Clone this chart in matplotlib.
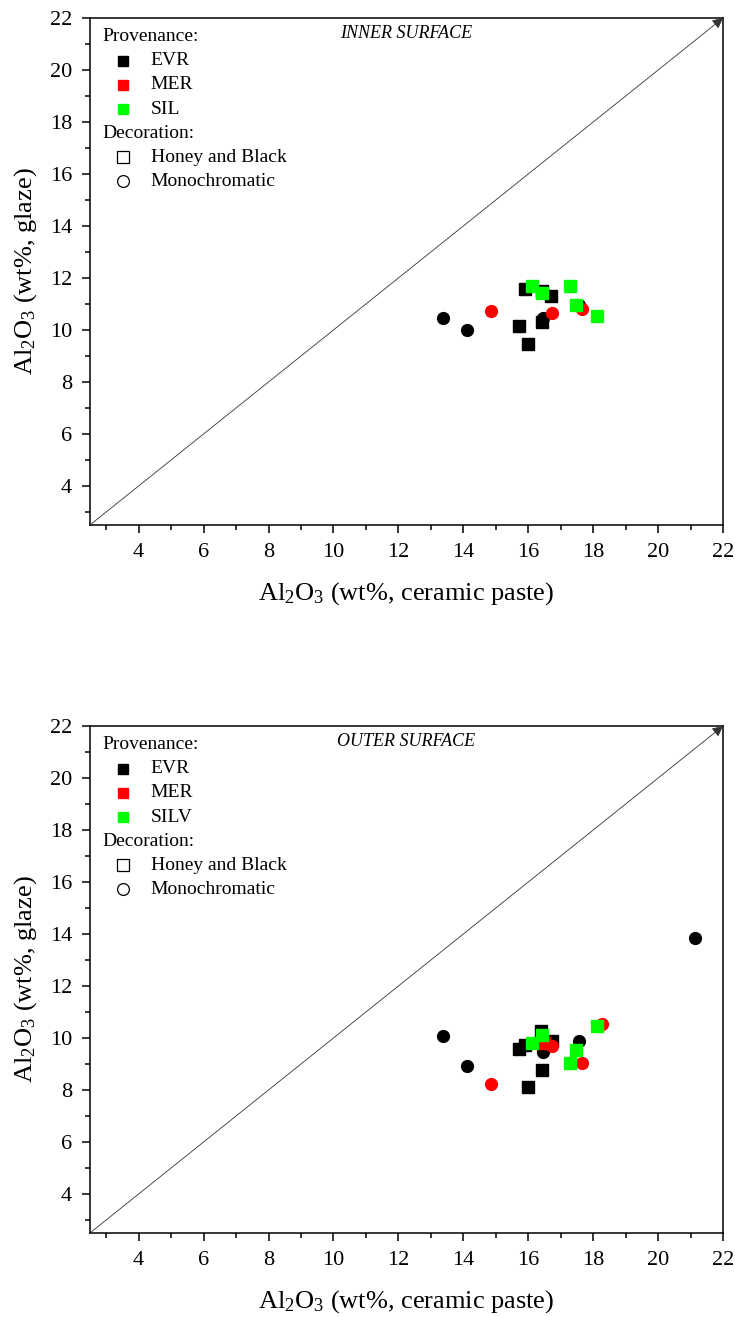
import matplotlib
matplotlib.use("Agg")
import matplotlib.pyplot as plt
from matplotlib.ticker import MultipleLocator

plt.rcParams['font.family'] = ['Liberation Serif', 'DejaVu Serif']
plt.rcParams['mathtext.fontset'] = 'custom'
plt.rcParams['mathtext.rm'] = 'Liberation Serif'
plt.rcParams['mathtext.it'] = 'Liberation Serif:italic'

# ---- Inner surface (ceramic paste vs glaze) ----
in_evr_hb_x = [15.89, 16.41, 16.69, 15.71, 15.99, 16.43]
in_evr_hb_y = [11.58, 11.51, 11.32, 10.17, 9.45, 10.32]
in_evr_mono_x = [13.37, 14.12, 16.46, 17.57]
in_evr_mono_y = [10.45, 10.00, 10.45, 10.96]
in_mer_mono_x = [14.86, 16.74, 17.65]
in_mer_mono_y = [10.74, 10.67, 10.81]
in_sil_hb_x = [16.13, 16.41, 17.30, 17.47, 18.13]
in_sil_hb_y = [11.69, 11.43, 11.69, 10.96, 10.54]

# ---- Outer surface ----
out_evr_hb_x = [16.39, 15.89, 15.71, 16.74, 16.43, 15.99]
out_evr_hb_y = [10.28, 9.73, 9.57, 9.90, 8.76, 8.12]
out_evr_mono_x = [13.37, 14.12, 16.46, 17.57, 21.14]
out_evr_mono_y = [10.09, 8.93, 9.45, 9.90, 13.86]
out_mer_hb_x = [16.49]
out_mer_hb_y = [9.82]
out_mer_mono_x = [14.86, 16.74, 17.65, 18.26]
out_mer_mono_y = [8.24, 9.69, 9.04, 10.54]
out_silv_hb_x = [16.41, 16.13, 17.47, 17.30, 18.13]
out_silv_hb_y = [10.12, 9.80, 9.54, 9.03, 10.47]

ticks = [4, 6, 8, 10, 12, 14, 16, 18, 20, 22]

BLACK = '#000000'
RED = '#ff0000'
GREEN = '#00ff00'


def setup_axes(ax):
    ax.set_xlim(2.5, 22)
    ax.set_ylim(2.5, 22)
    ax.set_xticks(ticks)
    ax.set_yticks(ticks)
    ax.xaxis.set_minor_locator(MultipleLocator(1))
    ax.yaxis.set_minor_locator(MultipleLocator(1))
    ax.tick_params(which='major', direction='out', length=6, width=1.1,
                   labelsize=16, pad=7, top=False, right=False)
    ax.tick_params(which='minor', direction='out', length=3.5, width=1.1)
    for s in ax.spines.values():
        s.set_linewidth(1.1)
    ax.set_xlabel(r'Al$_2$O$_3$ (wt%, ceramic paste)', fontsize=19, labelpad=13)
    ax.set_ylabel(r'Al$_2$O$_3$ (wt%, glaze)', fontsize=19, labelpad=8)
    # 1:1 reference line
    ax.annotate('', xy=(22, 22), xytext=(2.5, 2.5),
                arrowprops=dict(arrowstyle='-|>', lw=0.6, color='#333333',
                                mutation_scale=16, shrinkA=0, shrinkB=0))


def draw_key(ax, prov_names, title):
    tr = ax.transAxes
    y0, dy = 0.963, 0.0475
    ax.text(0.02, y0, 'Provenance:', transform=tr, fontsize=14, va='center')
    for i, (name, col) in enumerate(zip(prov_names, [BLACK, RED, GREEN])):
        y = y0 - dy * (i + 1)
        ax.plot([0.052], [y], 's', color=col, ms=7.5, transform=tr, clip_on=False)
        ax.text(0.096, y, name, transform=tr, fontsize=14, va='center')
    y = y0 - dy * 4
    ax.text(0.02, y, 'Decoration:', transform=tr, fontsize=14, va='center')
    for i, (name, mk) in enumerate([('Honey and Black', 's'), ('Monochromatic', 'o')]):
        y = y0 - dy * (5 + i)
        ax.plot([0.052], [y], mk, mfc='white', mec='black', mew=0.9, ms=8.5,
                transform=tr, clip_on=False)
        ax.text(0.096, y, name, transform=tr, fontsize=14, va='center')
    ax.text(0.5, 0.97, title, transform=tr, fontsize=13, style='italic',
            ha='center', va='center')


fig = plt.figure(figsize=(7.35, 13.17), dpi=100)
ax1 = fig.add_axes([0.1224, 0.6014, 0.8613, 0.3849])
ax2 = fig.add_axes([0.1224, 0.0638, 0.8613, 0.3849])

ms_sq = 8
ms_ci = 8.5

# inner
setup_axes(ax1)
ax1.plot(in_evr_hb_x, in_evr_hb_y, 's', color=BLACK, ms=ms_sq, ls='none')
ax1.plot(in_evr_mono_x, in_evr_mono_y, 'o', color=BLACK, ms=ms_ci, ls='none')
ax1.plot(in_mer_mono_x, in_mer_mono_y, 'o', color=RED, ms=ms_ci, ls='none')
ax1.plot(in_sil_hb_x, in_sil_hb_y, 's', color=GREEN, ms=ms_sq, ls='none')
draw_key(ax1, ['EVR', 'MER', 'SIL'], 'INNER SURFACE')

# outer
setup_axes(ax2)
ax2.plot(out_evr_hb_x, out_evr_hb_y, 's', color=BLACK, ms=ms_sq, ls='none')
ax2.plot(out_evr_mono_x, out_evr_mono_y, 'o', color=BLACK, ms=ms_ci, ls='none')
ax2.plot(out_mer_hb_x, out_mer_hb_y, 's', color=RED, ms=ms_sq, ls='none')
ax2.plot(out_mer_mono_x, out_mer_mono_y, 'o', color=RED, ms=ms_ci, ls='none')
ax2.plot(out_silv_hb_x, out_silv_hb_y, 's', color=GREEN, ms=ms_sq, ls='none')
draw_key(ax2, ['EVR', 'MER', 'SILV'], 'OUTER SURFACE')

fig.savefig('out.png', dpi=100)
